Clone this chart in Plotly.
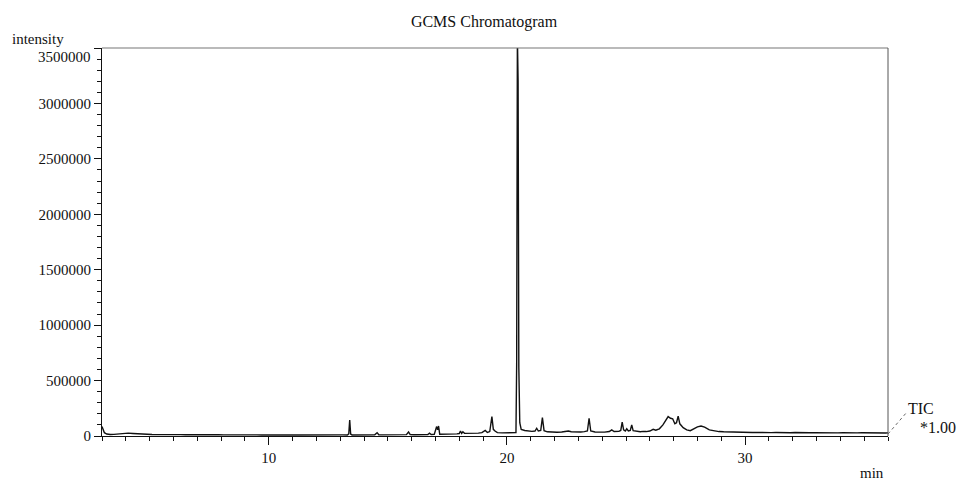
import plotly.graph_objects as go

# Retention time (min) and total ion current intensity
ret_time = [
    3.00, 3.04, 3.10, 3.20, 3.35, 3.50, 3.70, 3.90, 4.10, 4.30, 4.50, 4.70, 4.90,
    5.10, 5.30, 5.50, 5.70, 5.90, 6.10, 6.30, 6.50, 6.70, 6.90, 7.10, 7.30, 7.50,
    7.70, 7.90, 8.10, 8.30, 8.50, 8.70, 8.90, 9.10, 9.30, 9.50, 9.70, 9.90, 10.10,
    10.30, 10.50, 10.70, 10.90, 11.10, 11.30, 11.50, 11.70, 11.90, 12.10, 12.30,
    12.50, 12.70, 12.90, 13.10, 13.30, 13.36, 13.40, 13.44, 13.50, 13.70, 13.90,
    14.10, 14.30, 14.45, 14.55, 14.62, 14.80, 15.00, 15.20, 15.40, 15.60, 15.78,
    15.87, 15.94, 16.10, 16.30, 16.50, 16.68, 16.75, 16.82, 16.95, 17.00, 17.05,
    17.09, 17.13, 17.18, 17.30, 17.50, 17.70, 17.90, 18.00, 18.05, 18.10, 18.15,
    18.22, 18.40, 18.60, 18.80, 18.95, 19.09, 19.18, 19.28, 19.37, 19.43, 19.50,
    19.60, 19.80, 20.00, 20.20, 20.38, 20.41, 20.44, 20.47, 20.50, 20.54, 20.60,
    20.75, 20.90, 21.05, 21.18, 21.25, 21.32, 21.42, 21.49, 21.56, 21.70, 21.90,
    22.10, 22.30, 22.50, 22.58, 22.70, 22.90, 23.10, 23.25, 23.38, 23.45, 23.52,
    23.70, 23.90, 24.10, 24.30, 24.40, 24.50, 24.70, 24.78, 24.84, 24.90, 24.97,
    25.03, 25.10, 25.18, 25.24, 25.30, 25.45, 25.60, 25.72, 25.85, 26.00, 26.14,
    26.25, 26.40, 26.55, 26.70, 26.77, 26.87, 26.96, 27.05, 27.12, 27.19, 27.26,
    27.40, 27.55, 27.70, 27.85, 28.00, 28.15, 28.30, 28.50, 28.70, 28.90, 29.10,
    29.30, 29.50, 29.70, 29.90, 30.10, 30.30, 30.50, 30.70, 30.90, 31.10, 31.30,
    31.50, 31.70, 31.90, 32.10, 32.30, 32.50, 32.70, 32.90, 33.10, 33.30, 33.50,
    33.70, 33.90, 34.10, 34.30, 34.50, 34.70, 34.90, 35.10, 35.30, 35.50, 35.70,
    35.90, 36.00,
]
intensity = [
    85000, 60000, 30000, 18000, 13000, 15000, 20000, 25000, 26000, 23000, 19000, 16000, 14000,
    13000, 12500, 13500, 12000, 12800, 11500, 12500, 11000, 12000, 10500, 11800, 10800, 11500,
    10200, 11200, 10000, 11000, 9800, 10800, 9600, 10500, 9400, 10200, 9200, 10000, 9000,
    9800, 8800, 9600, 8700, 9500, 8600, 9400, 8500, 9300, 8600, 9500,
    8800, 9600, 9000, 9800, 9500, 20000, 145000, 18000, 9500, 10200, 9200,
    10000, 9400, 10500, 30000, 11000, 10000, 10800, 10200, 11500, 10800, 12000,
    36000, 12500, 11800, 12500, 13000, 13500, 25000, 14000, 15000, 60000, 85000,
    55000, 90000, 16000, 15500, 16500, 17500, 19000, 22000, 45000, 24000, 38000,
    24000, 23000, 25000, 26000, 30000, 50000, 32000, 40000, 175000, 60000, 45000,
    30000, 28000, 27000, 26000, 30000, 650000, 3600000, 3200000, 620000, 120000, 60000,
    50000, 45000, 42000, 45000, 70000, 45000, 50000, 165000, 48000, 38000, 35000,
    34000, 36000, 40000, 45000, 38000, 34000, 36000, 40000, 45000, 160000, 45000,
    36000, 34000, 35000, 40000, 55000, 40000, 42000, 50000, 125000, 55000, 45000,
    65000, 45000, 50000, 100000, 48000, 40000, 38000, 42000, 40000, 45000, 60000,
    52000, 65000, 100000, 160000, 175000, 160000, 155000, 110000, 120000, 180000, 110000,
    75000, 55000, 48000, 65000, 82000, 90000, 80000, 55000, 45000, 40000, 38000,
    36000, 35000, 34000, 33000, 34000, 32000, 33000, 31000, 32500, 30500, 32000,
    30000, 31500, 29500, 31000, 29000, 30500, 29500, 30500, 29000, 30000, 28500,
    29500, 28500, 30000, 28000, 29500, 28000, 29000, 27500, 29000, 28000, 28500,
    27500, 28000,
]

y_major = [0, 500000, 1000000, 1500000, 2000000, 2500000, 3000000, 3500000]
y_labels = ["0", "500000", "1000000", "1500000", "2000000", "2500000", "3000000", ""]
x_major = [10, 20, 30]

serif = "Liberation Serif"
W, H = 961, 481
M_L, M_R, M_T, M_B = 102, 73, 48, 45
PLOT_W = W - M_L - M_R
PLOT_H = H - M_T - M_B


def px(xp):
    """Page pixel column -> paper x."""
    return (xp - M_L) / PLOT_W


def py(yp):
    """Page pixel row -> paper y."""
    return (H - M_B - yp) / PLOT_H


fig = go.Figure()
fig.add_trace(go.Scatter(
    x=ret_time, y=intensity, mode="lines",
    line=dict(color="#111111", width=1.4),
    hoverinfo="skip", showlegend=False,
))

fig.update_layout(
    width=W, height=H,
    margin=dict(l=M_L, r=M_R, t=M_T, b=M_B),
    paper_bgcolor="white", plot_bgcolor="white",
    font=dict(family=serif, size=15, color="#111111"),
    title=dict(text="GCMS Chromatogram", x=484 / W, xanchor="center",
               y=1 - 21 / H, yanchor="middle",
               font=dict(family=serif, size=16, color="#111111")),
    showlegend=False,
)

fig.update_xaxes(
    range=[3, 36], showgrid=False, zeroline=False,
    showline=True, linecolor="#111111", linewidth=1,
    tickmode="array", tickvals=x_major, ticks="outside", ticklen=8,
    tickcolor="#111111", tickwidth=1,
    minor=dict(dtick=1, tick0=0, ticks="outside", ticklen=4,
               tickcolor="#111111", tickwidth=1, showgrid=False),
    tickfont=dict(family=serif, size=15, color="#111111"),
)
fig.update_yaxes(
    range=[0, 3500000], showgrid=False, zeroline=False,
    showline=True, linecolor="#111111", linewidth=1,
    tickmode="array", tickvals=y_major, ticktext=y_labels,
    ticks="outside", ticklen=7, tickcolor="#111111", tickwidth=1,
    minor=dict(dtick=100000, tick0=0, ticks="outside", ticklen=4,
               tickcolor="#111111", tickwidth=1, showgrid=False),
    tickfont=dict(family=serif, size=15, color="#111111"),
)

# frame on the top and right sides
fig.add_shape(type="line", xref="paper", yref="paper", x0=0, x1=1, y0=1, y1=1,
              line=dict(color="#777777", width=1.2))
fig.add_shape(type="line", xref="paper", yref="paper", x0=1, x1=1, y0=0, y1=1,
              line=dict(color="#555555", width=1))

# top tick label sits a little below its tick
fig.add_annotation(x=0, xref="paper", y=3500000, yref="y", text="3500000",
                   showarrow=False, xanchor="right", yanchor="middle",
                   xshift=-9, yshift=-9, font=dict(family=serif, size=15, color="#111111"))

# axis captions
fig.add_annotation(x=px(10), xref="paper", y=py(39), yref="paper",
                   text="intensity", showarrow=False, xanchor="left", yanchor="middle",
                   font=dict(family=serif, size=15, color="#111111"))
fig.add_annotation(x=px(872), xref="paper", y=py(473), yref="paper",
                   text="min", showarrow=False, xanchor="center", yanchor="middle",
                   font=dict(family=serif, size=15, color="#111111"))

# trace label with leader line
fig.add_shape(type="line", xref="paper", yref="paper",
              x0=px(888), y0=py(434), x1=px(907), y1=py(412),
              line=dict(color="#666666", width=1, dash="dot"))
fig.add_annotation(x=px(906), xref="paper", y=py(408), yref="paper",
                   text="TIC", showarrow=False, xanchor="left", yanchor="middle",
                   font=dict(family=serif, size=16, color="#111111"))
fig.add_annotation(x=px(918), xref="paper", y=py(427), yref="paper",
                   text="*1.00", showarrow=False, xanchor="left", yanchor="middle",
                   font=dict(family=serif, size=16, color="#111111"))

fig.write_html("out.html")
